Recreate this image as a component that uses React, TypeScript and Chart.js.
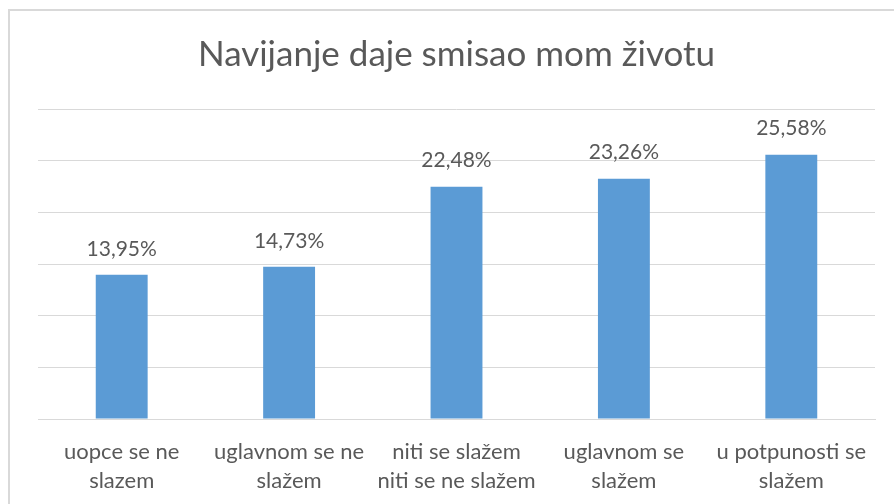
import React, { useEffect, useRef } from "react";
import { Chart, registerables } from "chart.js";

Chart.register(...registerables);

const TITLE = "Navijanje daje smisao mom životu";
const categories: string[][] = [
  ["uopce se ne", "slazem"],
  ["uglavnom se ne", "slažem"],
  ["niti se slažem", "niti se ne slažem"],
  ["uglavnom se", "slažem"],
  ["u potpunosti se", "slažem"],
];
const values: number[] = [13.95, 14.73, 22.48, 23.26, 25.58];
const yMin = 0;
const yMax = 30;
const yStep = 5;

const TEXT = "#595959";
const GRID = "#d9d9d9";
const BAR = "#5b9bd5";
const FONT = "Lato, 'Open Sans', sans-serif";

const fmt = (v: number) => v.toFixed(2).replace(".", ",") + "%";

const framePlugin = {
  id: "frame",
  beforeDraw(chart: any) {
    const ctx = chart.ctx;
    ctx.save();
    ctx.fillStyle = "#ffffff";
    ctx.fillRect(0, 0, chart.width, chart.height);
    ctx.strokeStyle = GRID;
    ctx.lineWidth = 2;
    ctx.strokeRect(9, 10, chart.width + 20, chart.height + 20);
    ctx.restore();
  },
};

const labelPlugin = {
  id: "barLabels",
  afterDatasetsDraw(chart: any) {
    const ctx = chart.ctx;
    const meta = chart.getDatasetMeta(0);
    ctx.save();
    ctx.fillStyle = TEXT;
    ctx.font = `21px ${FONT}`;
    ctx.textAlign = "center";
    ctx.textBaseline = "middle";
    meta.data.forEach((el: any, i: number) => {
      ctx.fillText(fmt(values[i]), el.x, el.y - 26);
    });
    ctx.restore();
  },
};

export default function App() {
  const ref = useRef<HTMLCanvasElement | null>(null);
  useEffect(() => {
    document.body.style.margin = "0";
    document.body.style.overflow = "hidden";
    if (!ref.current) return;
    const chart = new Chart(ref.current, {
      type: "bar",
      data: {
        labels: categories,
        datasets: [
          {
            data: values,
            backgroundColor: BAR,
            barPercentage: 0.31,
            categoryPercentage: 1,
          },
        ],
      },
      options: {
        animation: false,
        responsive: false,
        maintainAspectRatio: false,
        layout: { padding: { left: 38, right: 19, top: 0, bottom: 10 } },
        plugins: {
          legend: { display: false },
          tooltip: { enabled: false },
          title: {
            display: true,
            text: TITLE,
            color: TEXT,
            font: { family: FONT, size: 35, weight: "normal", lineHeight: 1.2 },
            padding: { top: 34, bottom: 33 },
          },
        },
        scales: {
          x: {
            grid: { display: false },
            border: { display: true, color: GRID, width: 1 },
            ticks: {
              color: TEXT,
              font: { family: FONT, size: 22, lineHeight: "29px" },
              padding: 10,
              maxRotation: 0,
              autoSkip: false,
            },
            afterFit: (scale: any) => {
              scale.height = 75;
            },
          },
          y: {
            min: yMin,
            max: yMax,
            ticks: { display: false, stepSize: yStep },
            grid: { color: GRID, lineWidth: 1, drawTicks: false },
            border: { display: false },
          },
        },
      },
      plugins: [framePlugin, labelPlugin],
    });
    return () => chart.destroy();
  }, []);
  return (
    <div style={{ width: 894, height: 504 }}>
      <canvas ref={ref} width={894} height={504} style={{ display: "block" }} />
    </div>
  );
}
